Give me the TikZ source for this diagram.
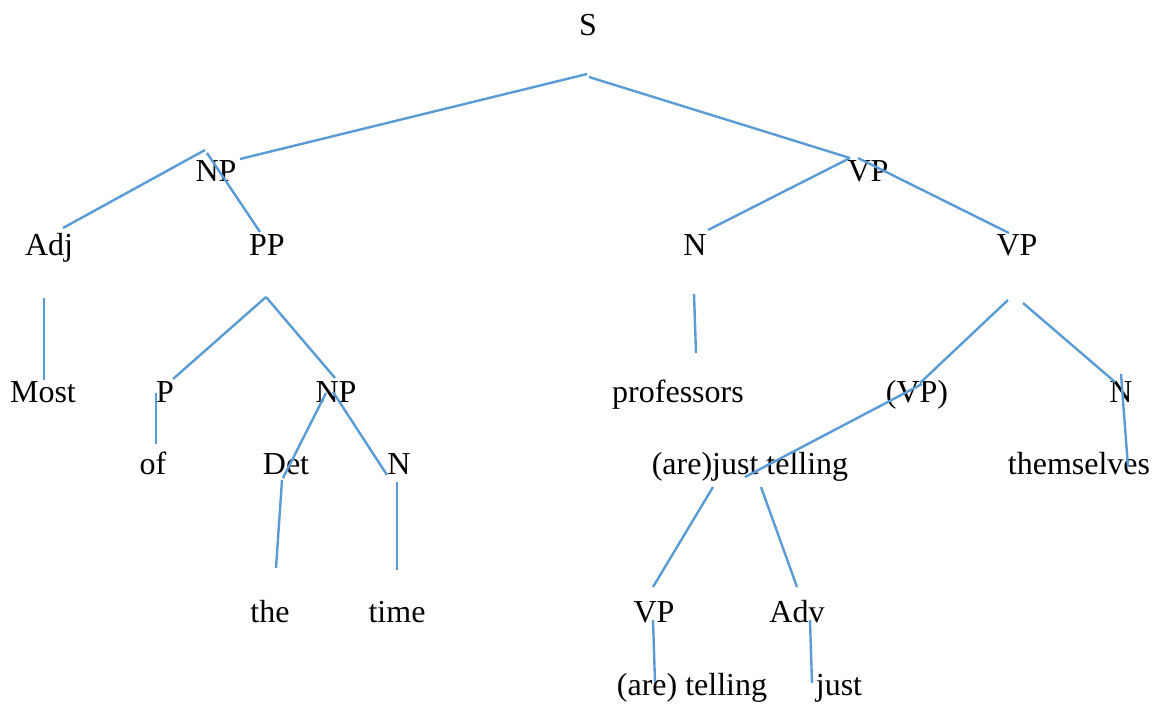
\documentclass[tikz,border=0pt]{standalone}
\usepackage{fontspec}
\setmainfont{Liberation Serif}
\definecolor{edgeblue}{HTML}{5B9BD5}
\begin{document}
\begin{tikzpicture}[x=1pt,y=-1pt,
  lbl/.style={anchor=base,inner sep=0pt,outer sep=0pt,font=\fontsize{32}{38}\selectfont},
  edge/.style={draw=edgeblue,line width=2.4pt}]
\useasboundingbox (0,0) rectangle (1157,704);
% labels
\node[lbl] (S) at (588,35) {S};
\node[lbl] (NP) at (216,181) {NP};
\node[lbl] (VP) at (868,181) {VP};
\node[lbl] (Adj) at (49,255) {Adj};
\node[lbl] (PP) at (267,255) {PP};
\node[lbl] (N1) at (695,255) {N};
\node[lbl] (VP2) at (1017,255) {VP};
\node[lbl] (Most) at (43,402) {Most};
\node[lbl] (P) at (165,402) {P};
\node[lbl] (NP2) at (336,402) {NP};
\node[lbl] (prof) at (678,402) {professors};
\node[lbl] (VP3) at (917,402) {(VP)};
\node[lbl] (N2) at (1121,402) {N};
\node[lbl] (of) at (153,474) {of};
\node[lbl] (Det) at (286,474) {Det};
\node[lbl] (N3) at (399,474) {N};
\node[lbl] (ajt) at (750,474) {(are)just telling};
\node[lbl] (them) at (1079,474) {themselves};
\node[lbl] (the) at (270,622) {the};
\node[lbl] (time) at (397,622) {time};
\node[lbl] (VP4) at (654,622) {VP};
\node[lbl] (Adv) at (797,622) {Adv};
\node[lbl] (aret) at (692,695) {(are) telling};
\node[lbl] (just) at (839,695) {just};
% connector end points
\coordinate (S-l) at (587,74);   \coordinate (NP-r) at (240,159);
\coordinate (S-r) at (589,77);   \coordinate (VP-t) at (850,158);
\coordinate (NP-a) at (205,150); \coordinate (Adj-t) at (63,228);
\coordinate (NP-b) at (207,153); \coordinate (PP-t) at (260,232);
\coordinate (N1-t) at (708,230);
\coordinate (VP-b) at (858,158); \coordinate (VP2-t) at (1009,233);
\coordinate (Adj-b) at (44,298); \coordinate (Most-t) at (44,380);
\coordinate (PP-b) at (266,297); \coordinate (P-t) at (173,379);
\coordinate (NP2-t) at (335,378);
\coordinate (N1-b) at (694,294); \coordinate (prof-t) at (696,353);
\coordinate (VP2-a) at (1008,300); \coordinate (VP3-t) at (920,383);
\coordinate (VP2-b) at (1023,303); \coordinate (N2-t) at (1115,382);
\coordinate (P-b) at (156,393); \coordinate (of-t) at (156,444);
\coordinate (NP2-a) at (326,393); \coordinate (Det-t) at (283,478);
\coordinate (NP2-b) at (333,392); \coordinate (N3-t) at (387,475);
\coordinate (VP3-b) at (922,384); \coordinate (ajt-t) at (745,477);
\coordinate (N2-b) at (1121,374); \coordinate (them-t) at (1128,467);
\coordinate (Det-b) at (282,480); \coordinate (the-t) at (276,568);
\coordinate (N3-b) at (397,482); \coordinate (time-t) at (397,570);
\coordinate (ajt-a) at (713,487); \coordinate (VP4-t) at (653,587);
\coordinate (ajt-b) at (761,487); \coordinate (Adv-t) at (797,587);
\coordinate (VP4-b) at (653,620); \coordinate (aret-t) at (655,682);
\coordinate (Adv-b) at (810,620); \coordinate (just-t) at (812,683);
% connectors
\draw[edge] (S-l) -- (NP-r);
\draw[edge] (S-r) -- (VP-t);
\draw[edge] (NP-a) -- (Adj-t);
\draw[edge] (NP-b) -- (PP-t);
\draw[edge] (VP-t) -- (N1-t);
\draw[edge] (VP-b) -- (VP2-t);
\draw[edge] (Adj-b) -- (Most-t);
\draw[edge] (PP-b) -- (P-t);
\draw[edge] (PP-b) -- (NP2-t);
\draw[edge] (N1-b) -- (prof-t);
\draw[edge] (VP2-a) -- (VP3-t);
\draw[edge] (VP2-b) -- (N2-t);
\draw[edge] (P-b) -- (of-t);
\draw[edge] (NP2-a) -- (Det-t);
\draw[edge] (NP2-b) -- (N3-t);
\draw[edge] (VP3-b) -- (ajt-t);
\draw[edge] (N2-b) -- (them-t);
\draw[edge] (Det-b) -- (the-t);
\draw[edge] (N3-b) -- (time-t);
\draw[edge] (ajt-a) -- (VP4-t);
\draw[edge] (ajt-b) -- (Adv-t);
\draw[edge] (VP4-b) -- (aret-t);
\draw[edge] (Adv-b) -- (just-t);
\end{tikzpicture}
\end{document}
